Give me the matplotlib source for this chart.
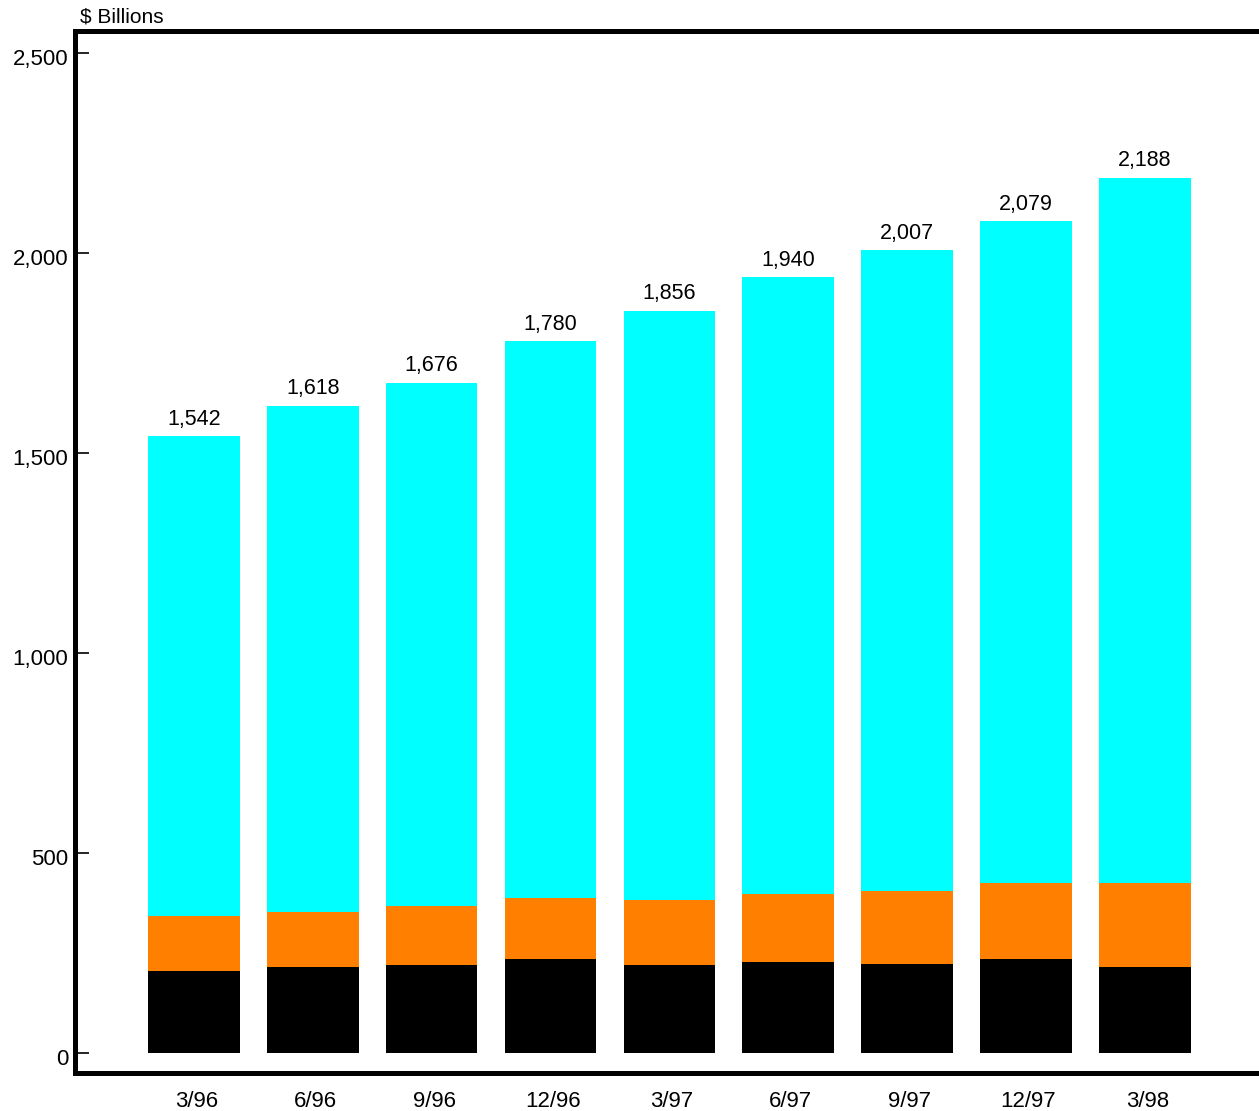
import matplotlib
matplotlib.use("Agg")
import matplotlib.pyplot as plt
import matplotlib.transforms as mtransforms
import numpy as np

plt.rcParams['font.family'] = ['Liberation Sans', 'DejaVu Sans']

# Quarter labels and stacked segment values ($ billions)
quarters = ['3/96', '6/96', '9/96', '12/96', '3/97', '6/97', '9/97', '12/97', '3/98']
totals = [1542, 1618, 1676, 1780, 1856, 1940, 2007, 2079, 2188]
black_part = [206, 214, 220, 235, 219, 228, 223, 235, 216]
orange_part = [137, 139, 148, 153, 163, 169, 182, 190, 208]

black_part = np.array(black_part)
orange_part = np.array(orange_part)
cyan_part = np.array(totals) - black_part - orange_part

fig = plt.figure(figsize=(12.59, 11.11), dpi=100)
ax = fig.add_axes([75 / 1259, 1 - 1073 / 1111, 1 - 75 / 1259, (1073 - 31) / 1111])

x = np.arange(len(quarters))
w = 0.77
ax.bar(x, black_part, w, color='black')
ax.bar(x, orange_part, w, bottom=black_part, color='#ff8000')
ax.bar(x, cyan_part, w, bottom=black_part + orange_part, color='cyan')

# total labels above each bar
for xi, t in zip(x, totals):
    ax.text(xi, t + 16, f'{t:,}', ha='center', va='bottom', fontsize=15.5)

ax.set_xlim(-1.0, 8.96)
ax.set_ylim(-50, 2555)
ax.set_yticks([0, 500, 1000, 1500, 2000, 2500])
ax.set_yticklabels([f'{v:,}' for v in [0, 500, 1000, 1500, 2000, 2500]])
ax.set_xticks(x + 0.02)
ax.set_xticklabels(quarters)
ax.tick_params(axis='y', direction='in', length=10, width=1.2, labelsize=16, pad=5)
ax.tick_params(axis='x', length=0, labelsize=16, pad=13)

# nudge y labels a few pixels down, as in the original
shift = mtransforms.ScaledTranslation(0, -4 / 100, fig.dpi_scale_trans)
for lbl in ax.get_yticklabels():
    lbl.set_transform(lbl.get_transform() + shift)

for s in ['left', 'top', 'bottom']:
    ax.spines[s].set_linewidth(3.6)
ax.spines['right'].set_visible(False)

fig.text(80 / 1259, 1 - 17 / 1111, '$ Billions', ha='left', va='center', fontsize=15)

fig.savefig('out.png', dpi=100)
